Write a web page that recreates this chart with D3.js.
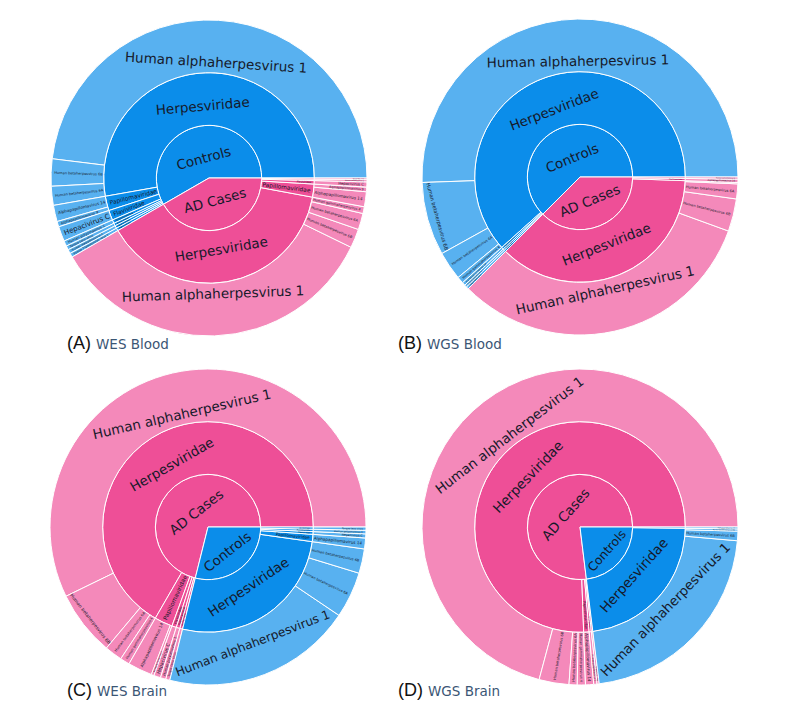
<!DOCTYPE html>
<html><head><meta charset="utf-8">
<script src="https://cdn.jsdelivr.net/npm/d3@7"></script>
<style>body{margin:0;background:#fff}svg{display:block}</style>
</head><body>
<svg id="chart" width="793" height="720"></svg>
<script>
// rows: [group, family, species, value]
const wesBlood = [
  ["Controls","Herpesviridae","Human alphaherpesvirus 1",173],
  ["Controls","Herpesviridae","Human betaherpesvirus 6B",10],
  ["Controls","Herpesviridae","Human betaherpesvirus 6A",7],
  ["Controls","Papillomaviridae","Alphapapillomavirus 14",6],
  ["Controls","Papillomaviridae","Alphapapillomavirus 9",2],
  ["Controls","Flaviviridae","Hepacivirus C",5.5],
  ["Controls","Polyomaviridae","Human polyomavirus 1",2],
  ["Controls","Anelloviridae","Torque teno virus",1.5],
  ["Controls","Adenoviridae","Human mastadenovirus C",1.5],
  ["Controls","Retroviridae","Human T-lymphotropic virus 1",1.5],
  ["AD Cases","Herpesviridae","Human alphaherpesvirus 1",124],
  ["AD Cases","Herpesviridae","Human betaherpesvirus 6B",7],
  ["AD Cases","Herpesviridae","Human betaherpesvirus 6A",6],
  ["AD Cases","Herpesviridae","Human gammaherpesvirus 4",2.5],
  ["AD Cases","Papillomaviridae","Alphapapillomavirus 14",5.5],
  ["AD Cases","Papillomaviridae","Alphapapillomavirus 9",1.7],
  ["AD Cases","Flaviviridae","Hepacivirus C",1.9],
  ["AD Cases","Polyomaviridae","Human polyomavirus 1",0.8],
  ["AD Cases","Anelloviridae","Torque teno virus",0.6]
];
const wgsBlood = [
  ["Controls","Herpesviridae","Human alphaherpesvirus 1",182],
  ["Controls","Herpesviridae","Human betaherpesvirus 6B",27],
  ["Controls","Herpesviridae","Human betaherpesvirus 6A",10.5],
  ["Controls","Herpesviridae","Human gammaherpesvirus 4",2.5],
  ["Controls","Papillomaviridae","Alphapapillomavirus 14",1.2],
  ["Controls","Polyomaviridae","Human polyomavirus 1",0.9],
  ["Controls","Anelloviridae","Torque teno virus",0.9],
  ["AD Cases","Herpesviridae","Human alphaherpesvirus 1",115],
  ["AD Cases","Herpesviridae","Human betaherpesvirus 6B",12],
  ["AD Cases","Herpesviridae","Human betaherpesvirus 6A",5.5],
  ["AD Cases","Herpesviridae","Human gammaherpesvirus 4",0.5],
  ["AD Cases","Papillomaviridae","Alphapapillomavirus 14",1.2],
  ["AD Cases","Polyomaviridae","Human polyomavirus 1",0.8]
];
const wesBrain = [
  ["AD Cases","Herpesviridae","Human alphaherpesvirus 1",206],
  ["AD Cases","Herpesviridae","Human betaherpesvirus 6B",24],
  ["AD Cases","Herpesviridae","Human betaherpesvirus 6A",6.5],
  ["AD Cases","Herpesviridae","Human gammaherpesvirus 4",3.5],
  ["AD Cases","Papillomaviridae","Alphapapillomavirus 14",9],
  ["AD Cases","Papillomaviridae","Alphapapillomavirus 9",1],
  ["AD Cases","Flaviviridae","Hepacivirus C",2.5],
  ["AD Cases","Polyomaviridae","Human polyomavirus 1",2],
  ["AD Cases","Anelloviridae","Torque teno virus",1.5],
  ["Controls","Herpesviridae","Human alphaherpesvirus 1",70],
  ["Controls","Herpesviridae","Human betaherpesvirus 6A",17],
  ["Controls","Herpesviridae","Human betaherpesvirus 6B",9],
  ["Controls","Papillomaviridae","Alphapapillomavirus 14",4],
  ["Controls","Flaviviridae","Hepacivirus C",1.5],
  ["Controls","Polyomaviridae","Human polyomavirus 1",1.3],
  ["Controls","Anelloviridae","Torque teno virus",1.2]
];
const wgsBrain = [
  ["AD Cases","Herpesviridae","Human alphaherpesvirus 1",255],
  ["AD Cases","Herpesviridae","Human betaherpesvirus 6B",11],
  ["AD Cases","Herpesviridae","Human betaherpesvirus 6A",3],
  ["AD Cases","Herpesviridae","Human gammaherpesvirus 4",3],
  ["AD Cases","Papillomaviridae","Alphapapillomavirus 14",3],
  ["AD Cases","Polyomaviridae","Human polyomavirus 1",1.2],
  ["AD Cases","Anelloviridae","Torque teno virus",0.8],
  ["Controls","Herpesviridae","Human alphaherpesvirus 1",78],
  ["Controls","Herpesviridae","Human betaherpesvirus 6B",3.5],
  ["Controls","Herpesviridae","Human betaherpesvirus 6A",0.8],
  ["Controls","Papillomaviridae","Alphapapillomavirus 14",0.7]
];
const panelLetters = ["(A)","(B)","(C)","(D)"];
const panelNames = ["WES Blood","WGS Blood","WES Brain","WGS Brain"];
const panelData = [wesBlood, wgsBlood, wesBrain, wgsBrain];

// layout
const centers = [[209,178],[580,177],[208,527],[580,527]];
const R = 158;
const captionPos = [[67,349],[398,349],[67,696],[398,696]];
const FONT = "DejaVu Sans";
const F = 13.5;
const colors = {"Controls":["#0B8DEA","#58B1F0"], "AD Cases":["#EE4F97","#F489BA"]};
const textColor = "#16192a";

const svg = d3.select("#chart");
svg.append("rect").attr("width",793).attr("height",720).attr("fill","#fff");
const ctx = document.createElement("canvas").getContext("2d");
ctx.font = F + "px '" + FONT + "'";
const tw = t => ctx.measureText(t).width;

function fitText(w, h, r0, r1, span) {
  const alpha = Math.min(span/2, Math.PI/2);
  const wedge = alpha < Math.PI/2 - 1e-9;
  const tanA = Math.tan(alpha);
  let best = null;
  for (const orient of ["rad","tan"]) {
    const L = orient === "tan" ? h : w, T = orient === "tan" ? w : h;
    const range = s => {
      const lo = Math.max(r0 + L*s/2, L*s/2 + (wedge ? (T*s/2)/tanA : 0));
      const o2 = r1*r1 - (T*s/2)*(T*s/2);
      if (o2 <= 0) return null;
      const hi = Math.sqrt(o2) - L*s/2;
      return hi >= lo ? [lo, hi] : null;
    };
    let a = 0, b = 4;
    for (let i = 0; i < 50; i++) { const m = (a+b)/2; if (range(m)) a = m; else b = m; }
    const s = Math.min(a, 1);
    const rg = range(s) || [(r0+r1)/2, (r0+r1)/2];
    const o = {orient, smax:a, s, d:(rg[0]+rg[1])/2};
    if (!best || o.smax > best.smax) best = o;
  }
  return best;
}

const children = d => {
  const v = d instanceof Map ? d : d[1];
  if (v instanceof Map) return Array.from(v);
  if (Array.isArray(v) && Array.isArray(v[0])) return v;
  return null;
};

panelData.forEach((rows, pi) => {
  const [cx, cy] = centers[pi];
  const root = d3.hierarchy(d3.group(rows, d => d[0], d => d[1]), children)
    .sum(d => (Array.isArray(d) && typeof d[3] === "number") ? d[3] : 0)
    .sort((a, b) => b.value - a.value);
  d3.partition().size([2*Math.PI, 1])(root);
  const ring = R/3;
  const nodes = root.descendants().filter(n => n.depth > 0);
  const nameOf = n => n.depth === 3 ? n.data[2] : n.data[0];
  const groupOf = n => n.ancestors().find(a => a.depth === 1).data[0];
  const arc = d3.arc()
    .startAngle(n => Math.PI/2 - n.x1).endAngle(n => Math.PI/2 - n.x0)
    .innerRadius(n => (n.depth-1)*ring).outerRadius(n => n.depth*ring);
  const g = svg.append("g").attr("transform", `translate(${cx},${cy})`);
  g.selectAll("path").data(nodes).join("path")
    .attr("d", arc)
    .attr("fill", n => colors[groupOf(n)][n.children ? 0 : 1])
    .attr("stroke", "#fff").attr("stroke-width", 1);
  nodes.forEach(n => {
    const label = nameOf(n);
    const w = tw(label), h = F*1.15;
    const r0 = (n.depth-1)*ring + (n.depth > 1 ? 1 : 0), r1 = n.depth*ring - 3;
    const span = n.x1 - n.x0;
    const f = fitText(w, h, r0, r1, span);
    const size = F*f.s;
    if (size < 1.2) return;
    const mid = (n.x0 + n.x1)/2;
    const x = f.d*Math.cos(mid), y = -f.d*Math.sin(mid);
    const deg = mid*180/Math.PI;
    let rot = f.orient === "tan" ? 90 - deg : -deg;
    rot = ((rot % 180) + 180) % 180; if (rot > 90) rot -= 180;
    g.append("text")
      .attr("transform", `translate(${x},${y}) rotate(${rot})`)
      .attr("text-anchor", "middle").attr("dy", "0.35em")
      .attr("font-family", FONT).attr("font-size", size)
      .attr("fill", textColor).text(label);
  });
  const [tx, ty] = captionPos[pi];
  const cap = svg.append("text").attr("x", tx).attr("y", ty);
  cap.append("tspan").attr("font-family", "Liberation Sans, Arial").attr("font-size", 18).attr("fill", "#111").text(panelLetters[pi] + " ");
  cap.append("tspan").attr("font-family", FONT).attr("font-size", 13.5).attr("fill", "#3b5675").text(panelNames[pi]);
});
</script>
</body></html>
